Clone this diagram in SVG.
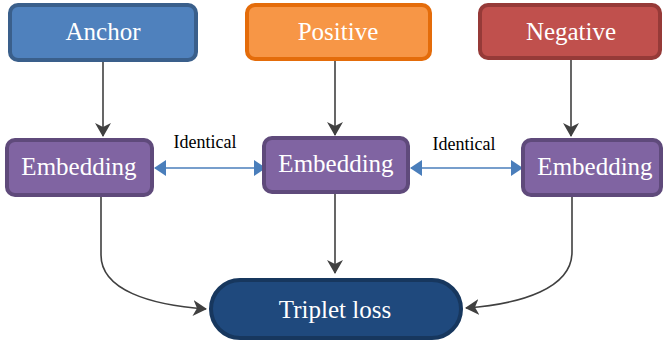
<svg xmlns="http://www.w3.org/2000/svg" width="664" height="345" viewBox="0 0 664 345">
<defs>
<style>
.box{stroke-width:4}
.t{font-family:'Liberation Serif','Times New Roman','DejaVu Serif',serif;fill:#fff;font-size:25px;text-anchor:middle}
.lbl{font-family:'Liberation Serif','Times New Roman','DejaVu Serif',serif;fill:#000;font-size:18px;text-anchor:middle}
.conn{fill:none;stroke:#404040;stroke-width:1.6}
.blue{fill:none;stroke:#4a7ebb;stroke-width:1.6}
</style>
<marker id="ah" markerUnits="userSpaceOnUse" viewBox="0 0 14 16" refX="13" refY="8" markerWidth="14" markerHeight="16" orient="auto">
<path d="M0,0 L14,8 L0,16 L4,8 z" fill="#404040"/>
</marker>
<marker id="bh" markerUnits="userSpaceOnUse" viewBox="0 0 12 16" refX="11" refY="8" markerWidth="12" markerHeight="16" orient="auto-start-reverse">
<path d="M0,0 L12,8 L0,16 z" fill="#4a7ebb"/>
</marker>
</defs>
<rect width="664" height="345" fill="#fff"/>
<g id="connectors">
<line class="conn" x1="103" y1="62" x2="103" y2="136" marker-end="url(#ah)"/>
<line class="conn" x1="335" y1="61" x2="335" y2="135" marker-end="url(#ah)"/>
<line class="conn" x1="571" y1="60" x2="571" y2="136" marker-end="url(#ah)"/>
<line class="conn" x1="335" y1="194" x2="335" y2="273" marker-end="url(#ah)"/>
<path class="conn" d="M101,197 L101,255 C101,290 150,305 206,309" marker-end="url(#ah)"/>
<path class="conn" d="M572,197 L572,252 C572,288 522,304 466,308" marker-end="url(#ah)"/>
<line class="blue" x1="155" y1="168" x2="265" y2="168" marker-start="url(#bh)" marker-end="url(#bh)"/>
<line class="blue" x1="411" y1="168" x2="522" y2="168" marker-start="url(#bh)" marker-end="url(#bh)"/>
<text class="lbl" x="205" y="148">Identical</text>
<text class="lbl" x="464" y="150">Identical</text>
</g>
<g id="anchor">
<rect class="box" x="10" y="5" width="186" height="55" rx="8" fill="#4f81bd" stroke="#3a5f8b"/>
<text class="t" x="103" y="40">Anchor</text>
</g>
<g id="positive">
<rect class="box" x="247" y="5" width="183" height="54" rx="8" fill="#f79646" stroke="#e46c0a"/>
<text class="t" x="338" y="40">Positive</text>
</g>
<g id="negative">
<rect class="box" x="480" y="5" width="180" height="53" rx="8" fill="#c0504d" stroke="#963a38"/>
<text class="t" x="571" y="40">Negative</text>
</g>
<g id="emb-anchor">
<rect class="box" x="7" y="140" width="145" height="55" rx="8" fill="#8064a2" stroke="#5f4a7b"/>
<text class="t" x="79" y="175">Embedding</text>
</g>
<g id="emb-positive">
<rect class="box" x="264" y="138" width="144" height="54" rx="8" fill="#8064a2" stroke="#5f4a7b"/>
<text class="t" x="336" y="172">Embedding</text>
</g>
<g id="emb-negative">
<rect class="box" x="523" y="140" width="138" height="55" rx="8" fill="#8064a2" stroke="#5f4a7b"/>
<text class="t" x="595" y="175">Embedding</text>
</g>
<g id="triplet-loss">
<rect class="box" x="211" y="280" width="250" height="58" rx="29" fill="#1f497d" stroke="#17375e"/>
<text class="t" x="335" y="318">Triplet loss</text>
</g>
</svg>
